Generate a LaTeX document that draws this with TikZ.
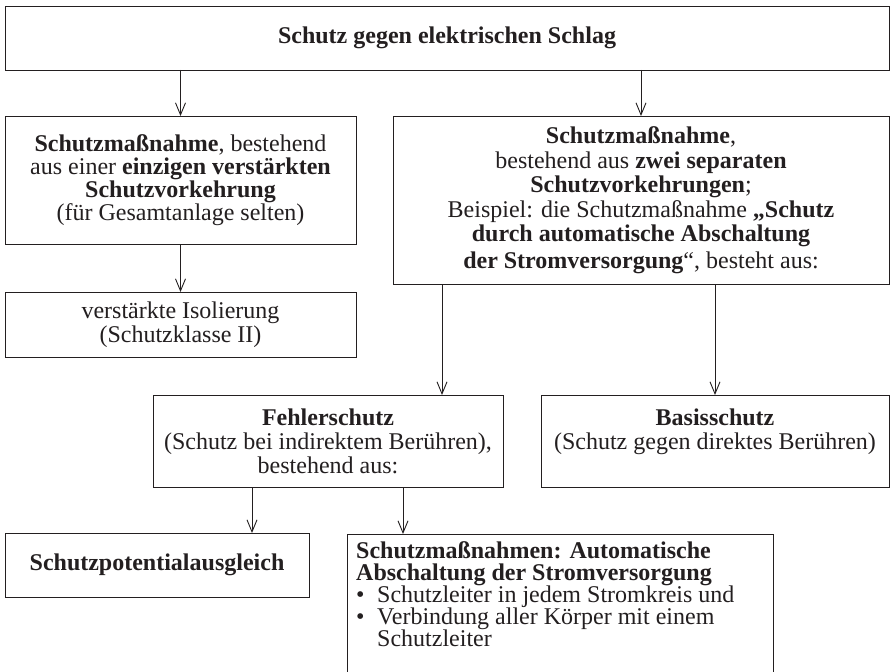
\documentclass[tikz,border=0pt]{standalone}
\usepackage{fontspec}
\setmainfont{Liberation Serif}
\usetikzlibrary{arrows.meta}
\definecolor{ink}{RGB}{35,31,32}
\begin{document}
\begin{tikzpicture}[x=1pt,y=-1pt,
  box/.style={draw=ink, line width=0.9pt, inner sep=0pt, outer sep=0pt, anchor=north west, align=center, text=ink, font=\fontsize{24}{23.5}\selectfont},
  arr/.style={draw=ink, line width=0.9pt, -{Straight Barb[length=12pt,width=10pt]}}]
\useasboundingbox (0,0) rectangle (890,671);
\clip (0,0) rectangle (890,671);
\fill[white] (0,0) rectangle (890,671);

\node[box, minimum width=884pt, minimum height=64pt] (top) at (5,6) {\textbf{Schutz gegen elektrischen Schlag}};

\node[box, minimum width=351pt, minimum height=128pt, font=\fontsize{24}{23}\selectfont] (a) at (5,116)
  {\textbf{Schutzmaßnahme}, bestehend\\aus einer \textbf{einzigen verstärkten}\\\textbf{Schutzvorkehrung}\\(für Gesamtanlage selten)};

\node[box, minimum width=496pt, minimum height=168pt, font=\fontsize{24}{24.5}\selectfont] (b) at (393,116)
  {\textbf{Schutzmaßnahme},\\bestehend aus \textbf{zwei separaten}\\\textbf{Schutzvorkehrungen};\\Beispiel: die Schutzmaßnahme \textbf{„Schutz}\\\textbf{durch automatische Abschaltung}\\[2pt]\textbf{der Stromversorgung}“, besteht aus:};

\node[box, minimum width=351pt, minimum height=65pt] (iso) at (5,292) {verstärkte Isolierung\\(Schutzklasse II)};

\node[box, minimum width=350pt, minimum height=92pt, font=\fontsize{24}{24}\selectfont] (fehler) at (153,395)
  {\textbf{Fehlerschutz}\\(Schutz bei indirektem Berühren),\\bestehend aus:};

\node[box, minimum width=348pt, minimum height=92pt, font=\fontsize{24}{24}\selectfont] (basis) at (541,395)
  {\textbf{Basisschutz}\\(Schutz gegen direktes Berühren)\\\mbox{}};

\node[box, minimum width=304pt, minimum height=64pt] (pot) at (5,533) {\textbf{Schutzpotentialausgleich}};

\node[draw=ink, line width=0.9pt, inner sep=0pt, outer sep=0pt, anchor=north west, minimum width=426pt, minimum height=160pt] (sm) at (347,534) {};
\node[anchor=north west, inner sep=0pt, align=left, text=ink, font=\fontsize{24}{22}\selectfont] (smtext) at (356,541)
  {\textbf{Schutzmaßnahmen: Automatische}\\\textbf{Abschaltung der Stromversorgung}\\\makebox[21pt][l]{\textbullet}Schutzleiter in jedem Stromkreis und\\\makebox[21pt][l]{\textbullet}Verbindung aller Körper mit einem\\\hspace*{21pt}Schutzleiter};

\coordinate (xF) at (442,0);
\coordinate (xP) at (252,0);
\coordinate (xS) at (403,0);

\draw[arr] (top.south -| a.north) -- (a.north);
\draw[arr] (top.south -| b.north) -- (b.north);
\draw[arr] (a.south) -- (iso.north);
\draw[arr] (b.south -| xF) -- (fehler.north -| xF);
\draw[arr] (b.south -| basis.north) -- (basis.north);
\draw[arr] (fehler.south -| xP) -- (pot.north -| xP);
\draw[arr] (fehler.south -| xS) -- (sm.north -| xS);
\end{tikzpicture}
\end{document}
